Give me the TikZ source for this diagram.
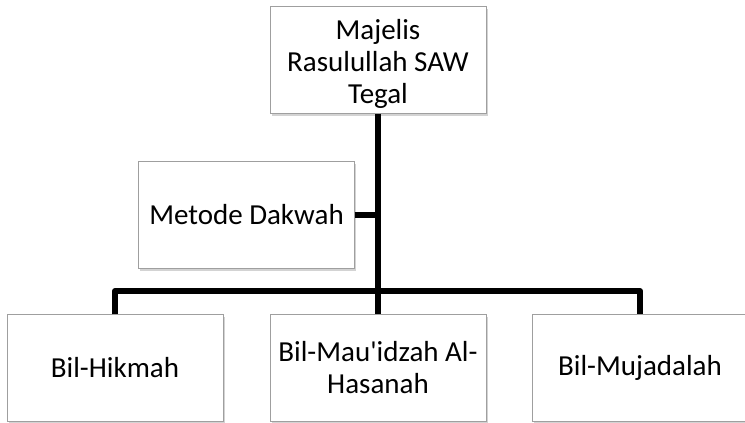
\documentclass[tikz,border=0pt]{standalone}
\usepackage{fontspec}
\setmainfont{Carlito}
\usepackage{tikz}
\usetikzlibrary{shadows}

\begin{document}
\begin{tikzpicture}[
        x=1pt, y=-1pt, % Coordenadas en pixeles
        font=\fontsize{29}{32}\selectfont, % Fuente de las cajas
        caja/.style={draw=gray!75, thin, fill=white, align=center,
        minimum width=216pt, minimum height=107pt, inner sep=2pt,
        drop shadow={shadow xshift=1.5pt, shadow yshift=-2.5pt, opacity=0.35}}, % Estilo para las cajas
        conector/.style={line width=6pt, line join=round} % Estilo para las lineas
    ]
        % --- Marco de la figura ---
        \useasboundingbox (0,0) rectangle (745,423);

        % --- Cajas ---
        \node[caja] (majelis) at (378,60) {\rule{0pt}{28pt}Majelis\\Rasulullah SAW\\Tegal};
        \node[caja] (metode) at (246.5,214.5) {Metode Dakwah};
        \node[caja] (hikmah) at (115,368) {Bil-Hikmah};
        \node[caja] (hasanah) at (378,368) {Bil-Mau\textquotesingle idzah Al-\\Hasanah};
        \node[caja] (mujadalah) at (640,368) {Bil-Mujadalah};

        % --- Lineas de union ---
        \coordinate (barra) at (378,291);
        \draw[conector] (majelis.south) -- (hasanah.north);
        \draw[conector] (metode.east) -- (metode.east -| majelis.south);
        \draw[conector] (hikmah.north) |- (barra) -| (mujadalah.north);

    \end{tikzpicture}
\end{document}
